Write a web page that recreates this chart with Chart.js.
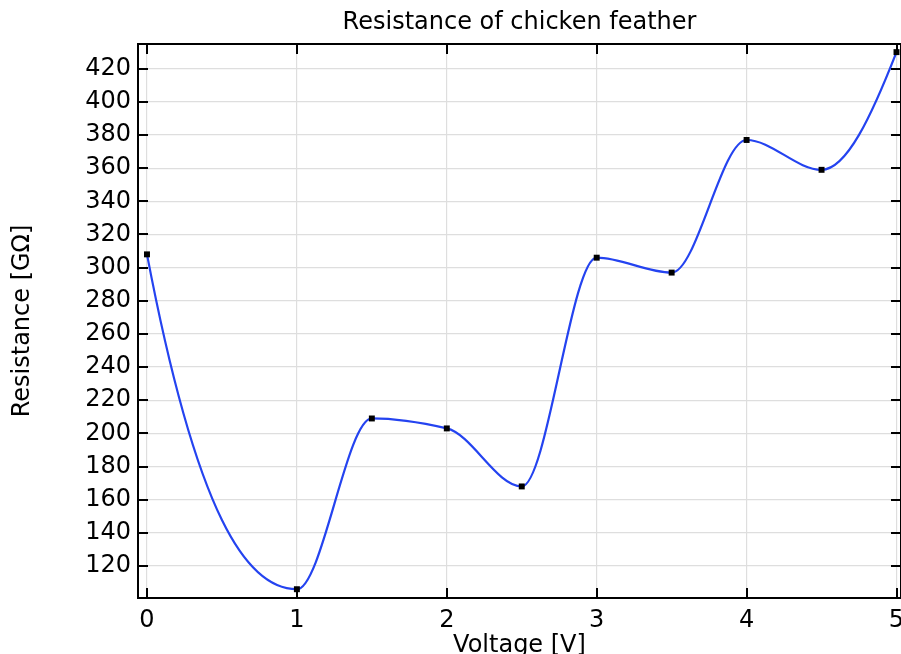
<!DOCTYPE html>
<html>
<head>
<meta charset="utf-8">
<script src="https://cdn.jsdelivr.net/npm/chart.js@4"></script>
<style>
  html, body { margin: 0; padding: 0; background: #fff; }
  #wrap { width: 901px; height: 654px; }
</style>
</head>
<body>
<div id="wrap"><canvas id="chart" width="901" height="654"></canvas></div>
<script>
// values
const voltage = [0, 1, 1.5, 2, 2.5, 3, 3.5, 4, 4.5, 5];
const resistance = [308, 106, 209, 203, 168, 306, 297, 377, 359, 430];
const xTicks = [0, 1, 2, 3, 4, 5];
const yTicks = [120, 140, 160, 180, 200, 220, 240, 260, 280, 300, 320, 340, 360, 380, 400, 420];

const FONT = 'DejaVu Sans';

// piecewise cubic hermite (pchip) slopes, the reference curve looks like that
function pchipSlopes(xs, ys) {
  const n = xs.length;
  const h = [], d = [];
  for (let i = 0; i < n - 1; i++) {
    h.push(xs[i + 1] - xs[i]);
    d.push((ys[i + 1] - ys[i]) / h[i]);
  }
  const m = new Array(n).fill(0);
  for (let k = 1; k < n - 1; k++) {
    if (d[k - 1] * d[k] <= 0) continue;
    const w1 = 2 * h[k] + h[k - 1], w2 = h[k] + 2 * h[k - 1];
    m[k] = (w1 + w2) / (w1 / d[k - 1] + w2 / d[k]);
  }
  const end = (h0, h1, d0, d1) => {
    let s = ((2 * h0 + h1) * d0 - h0 * d1) / (h0 + h1);
    if (Math.sign(s) !== Math.sign(d0)) s = 0;
    else if (Math.sign(d0) !== Math.sign(d1) && Math.abs(s) > Math.abs(3 * d0)) s = 3 * d0;
    return s;
  };
  m[0] = end(h[0], h[1], d[0], d[1]);
  m[n - 1] = end(h[n - 2], h[n - 3], d[n - 2], d[n - 3]);
  return { h, m };
}

// swap chart.js control points for pchip ones, through the chart's scales
const pchip = {
  id: 'pchip',
  beforeDatasetDraw(chart, args) {
    const meta = args.meta;
    const xs = chart.scales.x, ys = chart.scales.y;
    meta.dataset.updateControlPoints(chart.chartArea, 'x');
    const { h, m } = pchipSlopes(voltage, resistance);
    meta.data.forEach((pt, i) => {
      if (i > 0) {
        const dx = h[i - 1] / 3;
        pt.cp1x = xs.getPixelForValue(voltage[i] - dx);
        pt.cp1y = ys.getPixelForValue(resistance[i] - m[i] * dx);
      }
      if (i < h.length) {
        const dx = h[i] / 3;
        pt.cp2x = xs.getPixelForValue(voltage[i] + dx);
        pt.cp2y = ys.getPixelForValue(resistance[i] + m[i] * dx);
      }
    });
    meta.dataset._path = undefined;
  }
};

// inward tick marks on all four sides plus top/right spines
const frame = {
  id: 'frame',
  afterDraw(chart) {
    const { ctx, chartArea: a, scales } = chart;
    ctx.save();
    ctx.strokeStyle = '#000';
    ctx.lineWidth = 2;
    ctx.beginPath();
    ctx.moveTo(a.left, a.top); ctx.lineTo(a.right, a.top);
    ctx.moveTo(a.right, a.top); ctx.lineTo(a.right, a.bottom);
    const len = 10;
    xTicks.forEach(v => {
      const x = Math.round(scales.x.getPixelForValue(v));
      ctx.moveTo(x, a.bottom); ctx.lineTo(x, a.bottom - len);
      ctx.moveTo(x, a.top); ctx.lineTo(x, a.top + len);
    });
    yTicks.forEach(v => {
      const y = Math.round(scales.y.getPixelForValue(v));
      ctx.moveTo(a.left, y); ctx.lineTo(a.left + len, y);
      ctx.moveTo(a.right, y); ctx.lineTo(a.right - len, y);
    });
    ctx.stroke();
    ctx.restore();
  }
};

new Chart(document.getElementById('chart'), {
  type: 'line',
  data: {
    datasets: [{
      data: voltage.map((v, i) => ({ x: v, y: resistance[i] })),
      borderColor: '#2443f0',
      borderWidth: 2.2,
      cubicInterpolationMode: 'monotone',
      pointStyle: 'rect',
      pointRadius: 4.2,
      pointBackgroundColor: '#000',
      pointBorderColor: '#000',
      pointBorderWidth: 0,
      clip: false
    }]
  },
  options: {
    responsive: false,
    animation: false,
    layout: { padding: 0, autoPadding: false },
    plugins: {
      legend: { display: false },
      tooltip: { enabled: false },
      title: {
        display: true,
        text: 'Resistance of chicken feather',
        fullSize: false,
        color: '#000',
        font: { family: FONT, size: 24, weight: 'normal' },
        padding: { top: 8, bottom: 7.2 }
      }
    },
    scales: {
      x: {
        type: 'linear',
        min: -0.06,
        max: 5.03,
        afterBuildTicks: s => { s.ticks = xTicks.map(v => ({ value: v })); },
        afterFit: s => { s.height = 56; s.paddingLeft = 0; s.paddingRight = 0; },
        grid: { color: '#dedede', lineWidth: 1.2, drawTicks: false },
        border: { display: true, color: '#000', width: 2 },
        ticks: {
          color: '#000',
          padding: 8,
          maxRotation: 0,
          font: { family: FONT, size: 24 }
        },
        title: {
          display: true,
          text: 'Voltage [V]',
          color: '#000',
          font: { family: FONT, size: 24 },
          padding: { top: 0, bottom: -6 }
        }
      },
      y: {
        type: 'linear',
        min: 100.7,
        max: 434.9,
        afterBuildTicks: s => { s.ticks = yTicks.map(v => ({ value: v })); },
        afterFit: s => { s.width = 138; s.paddingTop = 0; s.paddingBottom = 0; },
        grid: { color: '#dedede', lineWidth: 1.2, drawTicks: false },
        border: { display: true, color: '#000', width: 2 },
        ticks: {
          color: '#000',
          padding: 7,
          font: { family: FONT, size: 24 }
        },
        title: {
          display: true,
          text: 'Resistance [GΩ]',
          color: '#000',
          font: { family: FONT, size: 24 },
          padding: { top: 8, bottom: 0 }
        }
      }
    }
  },
  plugins: [pchip, frame]
});
</script>
</body>
</html>
